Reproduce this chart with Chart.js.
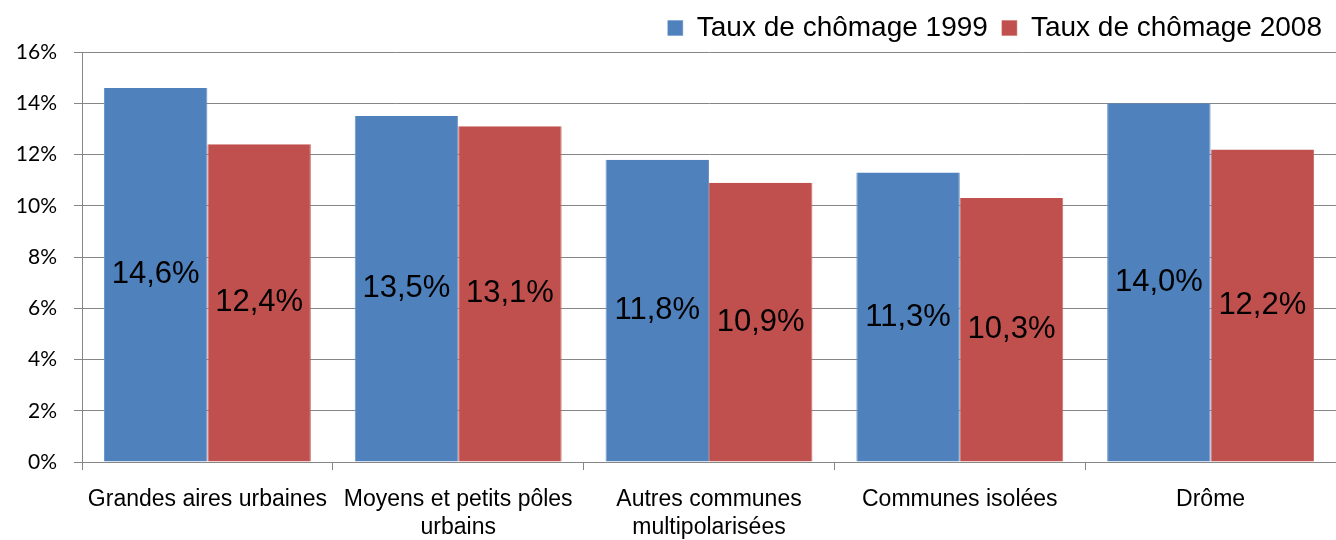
<!DOCTYPE html>
<html>
<head>
<meta charset="utf-8">
<script src="https://cdn.jsdelivr.net/npm/chart.js@4"></script>
<style>
html,body{margin:0;padding:0;background:#fff;}
#wrap{width:1336px;height:540px;position:relative;}
</style>
</head>
<body>
<div id="wrap"><canvas id="c" width="1336" height="540"></canvas></div>
<script>
const categories = [
  "Grandes aires urbaines",
  ["Moyens et petits pôles", "urbains"],
  ["Autres communes", "multipolarisées"],
  "Communes isolées",
  "Drôme"
];
const seriesNames = ["Taux de chômage 1999", "Taux de chômage 2008"];
const values1999 = [14.6, 13.5, 11.8, 11.3, 14.0];
const values2008 = [12.4, 13.1, 10.9, 10.3, 12.2];
const yTicks = [0, 2, 4, 6, 8, 10, 12, 14, 16];

const fmt = v => v.toFixed(1).replace('.', ',') + '%';

const barLabels = {
  id: 'barLabels',
  afterDatasetsDraw(chart) {
    const ctx = chart.ctx;
    ctx.save();
    ctx.font = '31px "Liberation Sans", Arial, sans-serif';
    ctx.fillStyle = '#000';
    ctx.textAlign = 'center';
    ctx.textBaseline = 'middle';
    chart.data.datasets.forEach((ds, i) => {
      chart.getDatasetMeta(i).data.forEach((bar, j) => {
        const y = (bar.y + bar.base) / 2;
        ctx.fillText(fmt(ds.data[j]), bar.x, y);
      });
    });
    ctx.restore();
  }
};

new Chart(document.getElementById('c'), {
  type: 'bar',
  data: {
    labels: categories,
    datasets: [
      { label: seriesNames[0], data: values1999, backgroundColor: '#4F81BD', borderColor: '#6a92c6', borderWidth: {left:1,right:1,top:0,bottom:0}, borderSkipped: false },
      { label: seriesNames[1], data: values2008, backgroundColor: '#C0504D', borderColor: '#cb6b68', borderWidth: {left:1,right:1,top:0,bottom:0}, borderSkipped: false }
    ]
  },
  options: {
    responsive: false,
    animation: false,
    devicePixelRatio: 1,
    layout: { padding: { left: 0, right: 0, top: 0, bottom: 0 } },
    datasets: { bar: { categoryPercentage: 0.825, barPercentage: 1.0 } },
    plugins: {
      legend: {
        position: 'top',
        align: 'end',
        labels: {
          font: { family: '"Liberation Sans", Arial, sans-serif', size: 28 },
          color: '#000',
          boxWidth: 15,
          boxHeight: 15,
          padding: 14
        }
      },
      tooltip: { enabled: false }
    },
    scales: {
      x: {
        offset: true,
        grid: { display: true, drawOnChartArea: false, drawTicks: true, tickLength: 8, offset: true, color: '#868686', lineWidth: 1 },
        border: { color: '#868686', width: 1 },
        ticks: {
          font: { family: '"Liberation Sans", Arial, sans-serif', size: 23 },
          color: '#000',
          padding: 16,
          maxRotation: 0,
          autoSkip: false
        },
        afterFit(s) { s.height = 78; }
      },
      y: {
        min: 0,
        max: 16,
        afterBuildTicks(s) { s.ticks = yTicks.map(v => ({ value: v })); },
        grid: { color: '#868686', lineWidth: 1, tickLength: 8, drawTicks: true },
        border: { color: '#868686', width: 1 },
        ticks: {
          font: { family: 'Lato, sans-serif', size: 21 },
          color: '#000',
          padding: 17,
          callback: v => v + '%'
        },
        afterFit(s) { s.width = 82; }
      }
    }
  },
  plugins: [barLabels]
});
</script>
</body>
</html>
